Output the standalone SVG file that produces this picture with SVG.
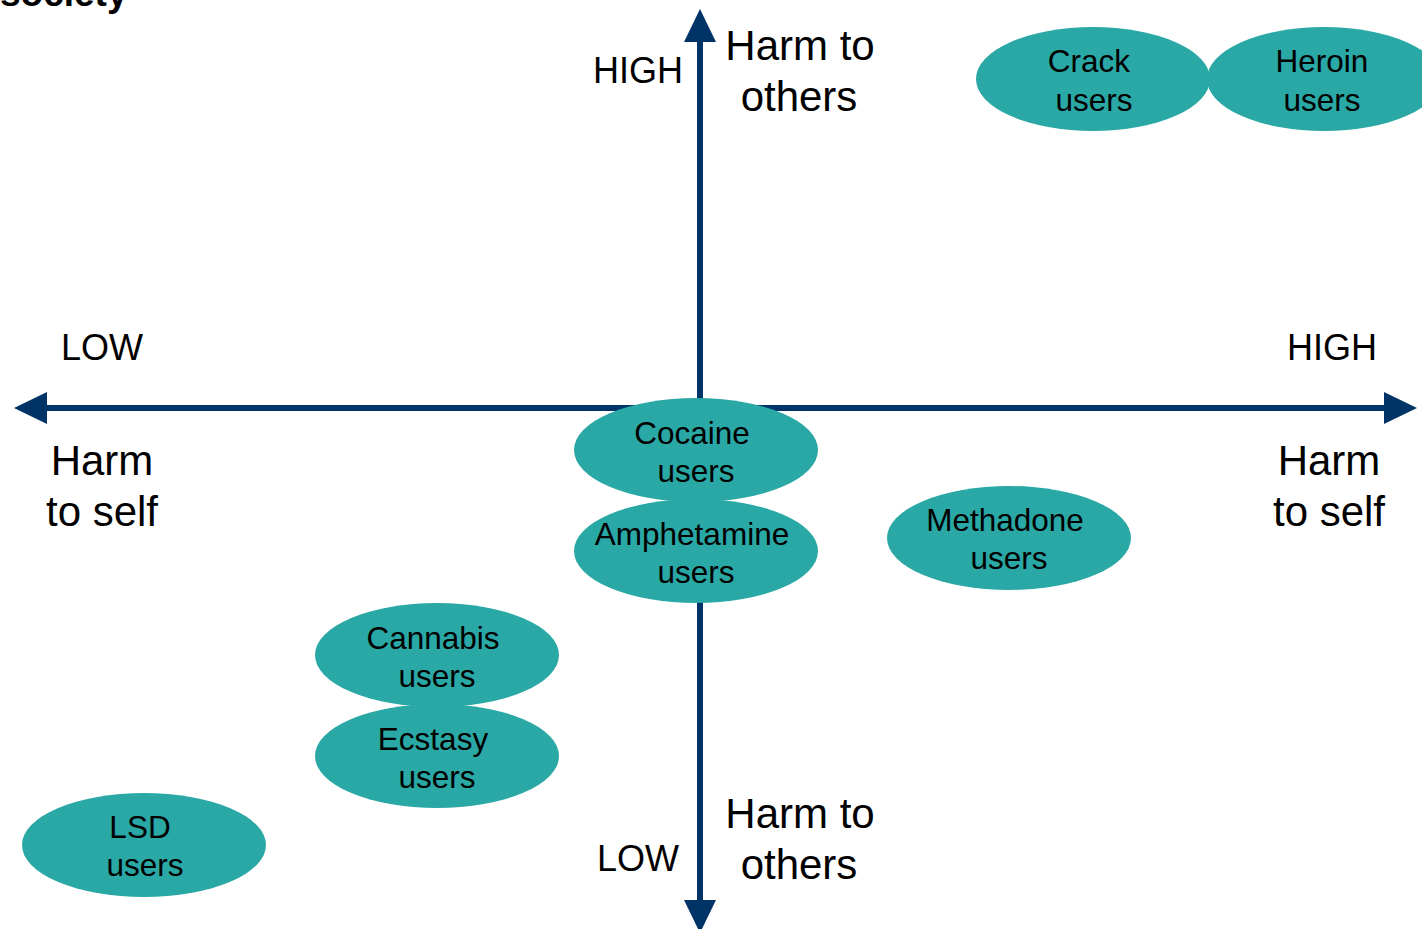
<svg xmlns="http://www.w3.org/2000/svg" width="1422" height="929" viewBox="0 0 1422 929">
<style>
.node ellipse{fill:#2aa8a5;}
.nt{font-family:"Liberation Sans",Arial,sans-serif;font-size:31.5px;fill:#000;text-anchor:middle;}
.lab{font-family:"Liberation Sans",Arial,sans-serif;font-size:42px;fill:#000;text-anchor:middle;}
.lvl{font-family:"Liberation Sans",Arial,sans-serif;font-size:36px;fill:#000;text-anchor:middle;}
.axis{stroke:#003366;stroke-width:6;fill:none;}
</style>
<defs>
<marker id="ah" markerUnits="userSpaceOnUse" markerWidth="34" markerHeight="34" refX="0" refY="16" orient="auto-start-reverse">
<path d="M0,0 L33,16 L0,32 z" fill="#003366"/>
</marker>
</defs>
<rect width="1422" height="929" fill="#fff"/>
<text x="0" y="6" font-family="Liberation Sans,Arial,sans-serif" font-weight="bold" font-size="37">society</text>
<g id="connectors">
<line class="axis" x1="47" y1="408" x2="1384" y2="408" marker-start="url(#ah)" marker-end="url(#ah)"/>
<line class="axis" x1="700" y1="42" x2="700" y2="900" marker-start="url(#ah)" marker-end="url(#ah)"/>
</g>
<g id="axis-labels">
<text class="lvl" x="638" y="83">HIGH</text>
<text class="lab" x="800" y="60">Harm to</text>
<text class="lab" x="799" y="111">others</text>
<text class="lvl" x="102" y="360">LOW</text>
<text class="lvl" x="1332" y="360">HIGH</text>
<text class="lab" x="102" y="475">Harm</text>
<text class="lab" x="102" y="526">to self</text>
<text class="lab" x="1329" y="475">Harm</text>
<text class="lab" x="1329" y="526">to self</text>
<text class="lvl" x="638" y="871">LOW</text>
<text class="lab" x="800" y="828">Harm to</text>
<text class="lab" x="799" y="879">others</text>
</g>
<g id="crack" class="node"><ellipse cx="1093" cy="79" rx="117" ry="52"/><text class="nt" x="1089" y="72">Crack</text><text class="nt" x="1094" y="111">users</text></g>
<g id="heroin" class="node"><ellipse cx="1324" cy="79" rx="117" ry="52"/><text class="nt" x="1322" y="72">Heroin</text><text class="nt" x="1322" y="111">users</text></g>
<g id="cocaine" class="node"><ellipse cx="696" cy="450" rx="122" ry="52"/><text class="nt" x="692" y="444">Cocaine</text><text class="nt" x="696" y="482">users</text></g>
<g id="amphetamine" class="node"><ellipse cx="696" cy="551" rx="122" ry="52"/><text class="nt" x="692" y="545">Amphetamine</text><text class="nt" x="696" y="583">users</text></g>
<g id="methadone" class="node"><ellipse cx="1009" cy="538" rx="122" ry="52"/><text class="nt" x="1005" y="531">Methadone</text><text class="nt" x="1009" y="569">users</text></g>
<g id="cannabis" class="node"><ellipse cx="437" cy="655" rx="122" ry="52"/><text class="nt" x="433" y="649">Cannabis</text><text class="nt" x="437" y="687">users</text></g>
<g id="ecstasy" class="node"><ellipse cx="437" cy="756" rx="122" ry="52"/><text class="nt" x="433" y="750">Ecstasy</text><text class="nt" x="437" y="788">users</text></g>
<g id="lsd" class="node"><ellipse cx="144" cy="845" rx="122" ry="52"/><text class="nt" x="140" y="838">LSD</text><text class="nt" x="145" y="876">users</text></g>
</svg>
